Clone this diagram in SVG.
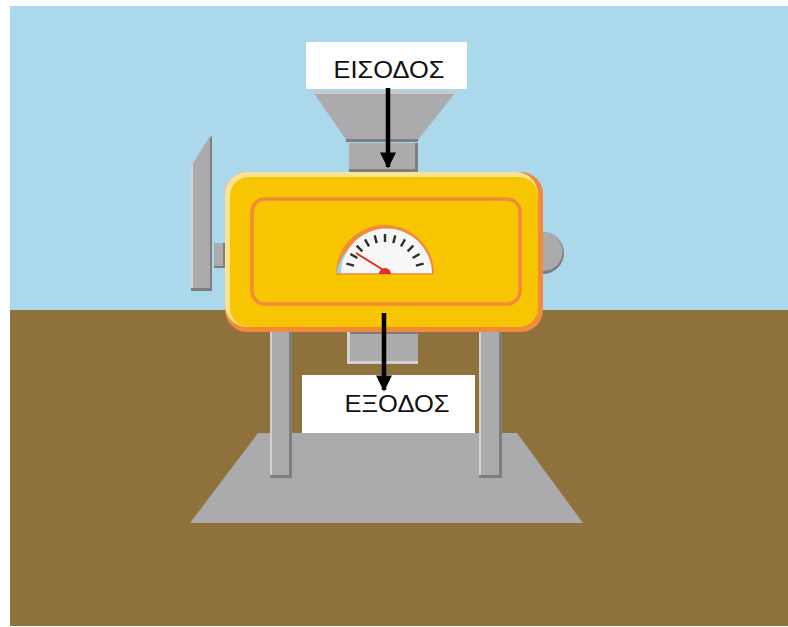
<svg xmlns="http://www.w3.org/2000/svg" width="788" height="627" viewBox="0 0 788 627">
  <style>
    .metal { fill: #ABABAD; }
    .metal-dark { fill: #7E7E80; }
    .metal-light { fill: #D2D2D4; }
    .label-box { fill: #FFFFFF; }
    .label { font-family: "Liberation Sans", "DejaVu Sans", sans-serif; font-size: 24px; fill: #111111; text-anchor: middle; }
    .flow { stroke: #000000; stroke-width: 4.5; fill: none; }
    .tick { stroke: #2E2E2E; stroke-width: 2.4; stroke-linecap: butt; }
  </style>
  <defs>
    <marker id="arrowhead" viewBox="0 0 10 10" refX="9" refY="5" markerWidth="3.6" markerHeight="3.6" orient="auto" markerUnits="strokeWidth">
      <path d="M0,0 L10,5 L0,10 Z" fill="#000000"/>
    </marker>
  </defs>

  <rect width="788" height="627" fill="#FFFFFF"/>

  <!-- scene backdrop: sky and ground -->
  <g id="backdrop">
    <rect x="10" y="6" width="778" height="304" fill="#ACD8EC"/>
    <rect x="10" y="310" width="778" height="316" fill="#8F713B"/>
  </g>

  <!-- base platform -->
  <g id="platform">
    <polygon points="258,433 517,433 583,523 190,523" class="metal"/>
  </g>

  <!-- legs -->
  <g id="legs">
    <rect x="270" y="330" width="22" height="148" class="metal-dark"/>
    <rect x="270" y="330" width="19" height="145" class="metal"/>
    <rect x="270" y="330" width="2" height="145" class="metal-light"/>
    <rect x="479" y="330" width="23" height="148" class="metal-dark"/>
    <rect x="479" y="330" width="20" height="145" class="metal"/>
    <rect x="479" y="330" width="2" height="145" class="metal-light"/>
  </g>

  <!-- outlet spout under the body -->
  <g id="outlet">
    <rect x="347" y="332" width="71" height="32" class="metal-light"/>
    <rect x="350" y="332" width="68" height="29" class="metal"/>
    <rect x="350" y="332" width="68" height="2" class="metal-dark"/>
  </g>

  <!-- side lever on the left -->
  <g id="lever">
    <rect x="214" y="243" width="11" height="25" class="metal-dark"/>
    <rect x="214" y="243" width="9" height="23" class="metal"/>
    <polygon points="191,167 212,135 212,291 191,291" class="metal-dark"/>
    <polygon points="191,167 210,136 210,288 191,288" class="metal"/>
    <polygon points="191,167 193,164 193,288 191,288" class="metal-light"/>
  </g>

  <!-- knob on the right -->
  <g id="knob">
    <path d="M543,232 A21,21 0 0 1 543,274 Z" class="metal-dark"/>
    <path d="M543,232 A19.5,19.5 0 0 1 543,271 Z" class="metal"/>
  </g>

  <!-- hopper feeding the machine -->
  <g id="hopper">
    <polygon points="313,92 456,92 417,141 347,141" class="metal"/>
    <rect x="313" y="91" width="143" height="3" fill="#C9C9CB"/>
    <rect x="346" y="139" width="72" height="3" class="metal-dark"/>
    <rect x="349" y="143" width="69" height="29" class="metal-dark"/>
    <rect x="349" y="143" width="66" height="26" class="metal"/>
  </g>

  <!-- machine body -->
  <g id="body">
    <rect x="225" y="172" width="318" height="160" rx="22" fill="#F18A3B"/>
    <rect x="225" y="172" width="313" height="155" rx="22" fill="#FAE493"/>
    <rect x="230" y="177" width="308" height="150" rx="19" fill="#F8C600"/>
    <rect x="252" y="199" width="268" height="105" rx="13" fill="none" stroke="#F18A3B" stroke-width="3.5"/>
  </g>

  <!-- gauge -->
  <g id="gauge">
    <path d="M336,274 A49,49 0 0 1 434,274 Z" fill="#F18A3B"/>
    <path d="M336,274 A49,49 0 0 1 432.5,274 Z" fill="#9ED4EA"/>
    <path d="M341,274 A44,44 0 0 1 432,274 Z" fill="#F7F7F7"/>
    <line x1="336" y1="274" x2="433" y2="274" stroke="#F18A3B" stroke-width="1.5"/>
    <g class="tick">
      <line x1="346.4" y1="263.7" x2="354.1" y2="265.7"/>
      <line x1="350.4" y1="254" x2="357.3" y2="258"/>
      <line x1="356.7" y1="245.7" x2="362.4" y2="251.4"/>
      <line x1="365" y1="239.4" x2="369" y2="246.3"/>
      <line x1="374.7" y1="235.4" x2="376.7" y2="243.1"/>
      <line x1="385" y1="234" x2="385" y2="242"/>
      <line x1="395.3" y1="235.4" x2="393.3" y2="243.1"/>
      <line x1="405" y1="239.4" x2="401" y2="246.3"/>
      <line x1="413.3" y1="245.7" x2="407.6" y2="251.4"/>
      <line x1="419.6" y1="254" x2="412.7" y2="258"/>
      <line x1="423.6" y1="263.7" x2="415.9" y2="265.7"/>
    </g>
    <line x1="385" y1="271" x2="356" y2="253" stroke="#E0301E" stroke-width="2"/>
    <path d="M379,274 A6,6 0 0 1 391,274 Z" fill="#E0301E"/>
  </g>

  <!-- labels -->
  <g id="input-label">
    <rect x="306" y="42" width="161" height="47" class="label-box"/>
    <text x="389" y="78" class="label" textLength="111" lengthAdjust="spacingAndGlyphs">ΕΙΣΟΔΟΣ</text>
  </g>
  <g id="output-label">
    <rect x="302" y="375" width="173" height="58" class="label-box"/>
    <text x="397" y="412" class="label" textLength="105" lengthAdjust="spacingAndGlyphs">ΕΞΟΔΟΣ</text>
  </g>

  <!-- flow arrows -->
  <g id="connectors">
    <line x1="388" y1="88" x2="388" y2="167" class="flow" marker-end="url(#arrowhead)"/>
    <line x1="384" y1="313" x2="384" y2="390" class="flow" marker-end="url(#arrowhead)"/>
  </g>
</svg>
